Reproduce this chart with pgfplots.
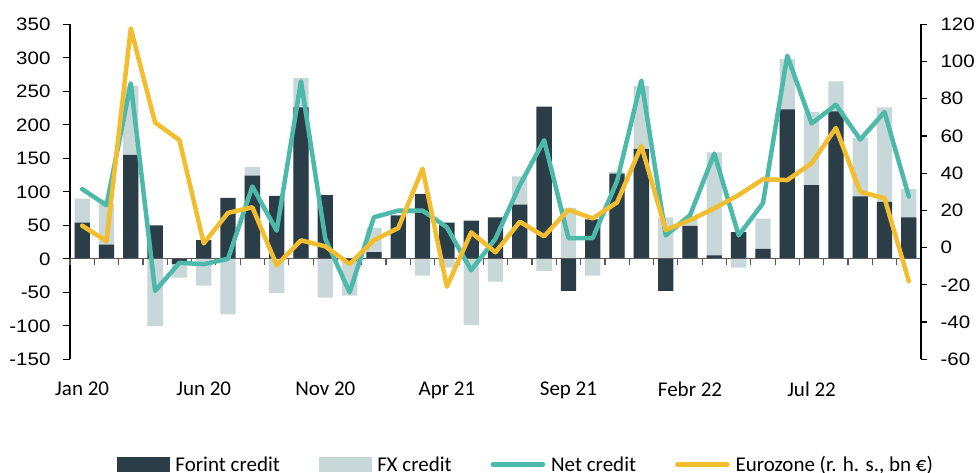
\documentclass[border=0pt]{standalone}
\usepackage{pgfplots}
\pgfplotsset{compat=1.18}
\usepackage{pgfplotstable}
\usepackage{fontspec}
\setmainfont{Carlito}
\newfontfamily\numfont{Liberation Sans}[FakeStretch=1.14]

\definecolor{forint}{HTML}{2B3D47}
\definecolor{fxc}{HTML}{C8D7D8}
\definecolor{netc}{HTML}{4CB9AA}
\definecolor{euroc}{HTML}{F2BD2E}
\definecolor{axgray}{HTML}{595959}

\pgfplotstableread{
i forint fx net euro
0 54 36 104 11.8
1 21 61 80 3.5
2 155 103 262 117.8
3 50 -100 -48 67.2
4 -8 -20 -6 57.8
5 28 -40 -8 2.3
6 91 -83 0 18.7
7 124 13 108 21.7
8 94 -51 42 -9.4
9 226 44 265 3.9
10 95 -58 30 0.7
11 -3 -52 -50 -8.8
12 10 36 62 4
13 65 0 72 10.5
14 97 -25 72 42.4
15 54 -13 47 -21
16 57 -99 -17 8.2
17 62 -34 30 -2.5
18 81 42 110 13.9
19 227 -18 177 6.1
20 -48 76 31 20.4
21 59 -25 31 15.7
22 127 3 116 24.3
23 164 94 266 54.6
24 -48 62 35 9.5
25 49 13 65 14.8
26 5 154 157 21.1
27 40 -13 35 28.3
28 15 45 83 36.7
29 223 75 303 36.3
30 110 109 202 45.3
31 220 45 230 64.3
32 93 87 178 30
33 85 141 219 26.5
34 62 42 93 -18
}\data

\begin{document}
\begin{tikzpicture}
\useasboundingbox (0,0) rectangle (978pt,-472pt);
\begin{axis}[
 at={(70pt,-359.3pt)}, anchor=south west,
 scale only axis, width=851pt, height=335pt,
 xmin=-0.5, xmax=34.5, ymin=-150, ymax=350,
 axis lines*=left,
 x axis line style={draw=none},
 y axis line style={black, line width=1.2pt},
 xtick={0,5,...,30},
 xticklabels={Jan 20,Jun 20,Nov 20,Apr 21,Sep 21,Febr 22,Jul 22},
 xtick style={draw=none},
 xticklabel style={font=\fontsize{21}{25}\selectfont, yshift=-12pt},
 ytick={-150,-100,...,350},
 ytick style={black, line width=1.2pt},
 tick align=outside, major tick length=7pt,
 yticklabel style={font=\numfont\fontsize{18}{21}\selectfont, xshift=-9pt},
 /pgf/number format/assume math mode=true,
 clip=false,
 legend columns=4,
 legend style={at={(axis description cs:0.5347,-0.3143)}, anchor=center,
   draw=none, fill=none, inner sep=0pt,
   font=\fontsize{21}{25}\selectfont,
   nodes={inner sep=0pt},
   /tikz/every odd column/.append style={column sep=6pt},
   /tikz/every even column/.append style={column sep=39pt}},
 legend cell align=left,
]
\addplot[ybar, bar width=15.3pt, bar shift=0pt, fill=fxc, draw=none, forget plot]
  table[x=i, y expr={(\thisrow{forint}*\thisrow{fx}>0) ? (\thisrow{forint}+\thisrow{fx}) : \thisrow{fx}}]{\data};
\addplot[ybar, bar width=15.3pt, bar shift=0pt, fill=forint, draw=none, forget plot]
  table[x=i, y=forint]{\data};
\draw[axgray, line width=1.3pt] (axis cs:-0.5,0) -- (axis cs:34.5,0);
\pgfplotsinvokeforeach{-0.5,0.5,...,34.5}{\draw[axgray, line width=1.2pt] (axis cs:#1,0) -- ++(0pt,-6pt);}
\addplot[netc, line width=4.5pt, line join=round, line cap=round, forget plot]
  table[x=i, y=net]{\data};
\addlegendimage{legend image code/.code={\fill[forint] (0pt,-7pt) rectangle (52pt,7pt);}}
\addlegendentry{Forint credit}
\addlegendimage{legend image code/.code={\fill[fxc] (0pt,-7pt) rectangle (52pt,7pt);}}
\addlegendentry{FX credit}
\addlegendimage{legend image code/.code={\draw[netc, line width=4.5pt, line cap=round] (2pt,0pt) -- (52pt,0pt);}}
\addlegendentry{Net credit}
\addlegendimage{legend image code/.code={\draw[euroc, line width=4.5pt, line cap=round] (2pt,0pt) -- (52pt,0pt);}}
\addlegendentry{Eurozone (r. h. s., bn €)}
\end{axis}
\begin{axis}[
 at={(70pt,-359.3pt)}, anchor=south west,
 scale only axis, width=851pt, height=335pt,
 xmin=-0.5, xmax=34.5, ymin=-60, ymax=120,
 axis x line=none, axis y line*=right,
 y axis line style={black, line width=1.2pt},
 ytick={-60,-40,...,120},
 ytick style={black, line width=1.2pt},
 tick align=outside, major tick length=6pt,
 yticklabel style={font=\numfont\fontsize{18}{21}\selectfont, xshift=10pt},
 /pgf/number format/assume math mode=true,
 clip=false,
]
\addplot[euroc, line width=4.5pt, line join=round, line cap=round]
  table[x=i, y=euro]{\data};
\end{axis}
\end{tikzpicture}
\end{document}
